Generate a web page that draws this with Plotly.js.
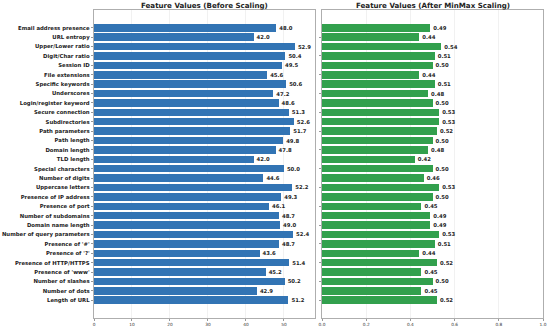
<!DOCTYPE html>
<html><head><meta charset="utf-8">
<script src="https://cdn.plot.ly/plotly-3.0.1.min.js"></script>
<style>html,body{margin:0;padding:0;background:#fff}#chart{width:550px;height:329px}</style>
</head><body><div id="chart"></div>
<script>
const features = ["Email address presence","URL entropy","Upper/Lower ratio","Digit/Char ratio","Session ID","File extensions","Specific keywords","Underscores","Login/register keyword","Secure connection","Subdirectories","Path parameters","Path length","Domain length","TLD length","Special characters","Number of digits","Uppercase letters","Presence of IP address","Presence of port","Number of subdomains","Domain name length","Number of query parameters","Presence of '#'","Presence of '?'","Presence of HTTP/HTTPS","Presence of 'www'","Number of slashes","Number of dots","Length of URL"];
const beforeValues = [48.0,42.0,52.9,50.4,49.5,45.6,50.6,47.2,48.6,51.3,52.6,51.7,49.8,47.8,42.0,50.0,44.6,52.2,49.3,46.1,48.7,49.0,52.4,48.7,43.6,51.4,45.2,50.2,42.9,51.2];
const afterValues = [0.49,0.44,0.54,0.51,0.50,0.44,0.51,0.48,0.50,0.53,0.53,0.52,0.50,0.48,0.42,0.50,0.46,0.53,0.50,0.45,0.49,0.49,0.53,0.51,0.44,0.52,0.45,0.50,0.45,0.52];
const xTicksLeft = [0,10,20,30,40,50];
const xTicksRight = [0,0.2,0.4,0.6,0.8,1.0];

const n = features.length;
const yr = [n - 1 + 1.89, -1.89];
const font = "DejaVu Sans, sans-serif";
const txtFont = {family: font, size: 5.3, color: "#222", weight: "bold"};

const traces = [
  {type: "bar", orientation: "h", x: beforeValues, y: features, xaxis: "x", yaxis: "y",
   width: 0.8, marker: {color: "#3274b4"}, text: beforeValues.map(v => v.toFixed(1)),
   textposition: "outside", textfont: txtFont, cliponaxis: false, constraintext: "none", hoverinfo: "none"},
  {type: "bar", orientation: "h", x: afterValues, y: features, xaxis: "x2", yaxis: "y2",
   width: 0.8, marker: {color: "#32a04d"}, text: afterValues.map(v => v.toFixed(2)),
   textposition: "outside", textfont: txtFont, cliponaxis: false, constraintext: "none", hoverinfo: "none"}
];

const axCommon = {showline: true, mirror: true, linecolor: "#9a9a9a", linewidth: 0.8,
  gridcolor: "#e8e8e8", gridwidth: 0.6, zeroline: false, ticks: "outside", ticklen: 2.5,
  tickcolor: "#555", tickwidth: 0.6, tickfont: {family: font, size: 4.3, color: "#333"}};

const layout = {
  width: 550, height: 329, margin: {l: 94, r: 7, t: 10, b: 11},
  paper_bgcolor: "#fff", plot_bgcolor: "#fff", showlegend: false, bargap: 0,
  xaxis: Object.assign({}, axCommon, {domain: [0, 0.4922], range: [0, 58.19], tickvals: xTicksLeft, ticktext: xTicksLeft.map(String), anchor: "y"}),
  xaxis2: Object.assign({}, axCommon, {domain: [0.5078, 1], range: [0, 1.0], tickvals: xTicksRight, ticktext: xTicksRight.map(v => v.toFixed(1)), anchor: "y2"}),
  yaxis: Object.assign({}, axCommon, {type: "category", categoryorder: "array", categoryarray: features, range: yr, showgrid: false, anchor: "x",
    ticklen: 2.5, tickfont: {family: font, size: 5.35, color: "#222", weight: "bold"}}),
  yaxis2: Object.assign({}, axCommon, {type: "category", categoryorder: "array", categoryarray: features, range: yr, showgrid: false, anchor: "x2",
    showticklabels: false, ticklen: 2.5}),
  annotations: [
    {text: "Feature Values (Before Scaling)", xref: "paper", yref: "paper", x: 0.2461, y: 1, yshift: 5, yanchor: "middle", xanchor: "center", showarrow: false,
     font: {family: font, size: 7.1, color: "#222", weight: "bold"}},
    {text: "Feature Values (After MinMax Scaling)", xref: "paper", yref: "paper", x: 0.7539, y: 1, yshift: 5, yanchor: "middle", xanchor: "center", showarrow: false,
     font: {family: font, size: 7.1, color: "#222", weight: "bold"}}
  ]
};

Plotly.newPlot("chart", traces, layout, {displayModeBar: false, staticPlot: true});
</script></body></html>
